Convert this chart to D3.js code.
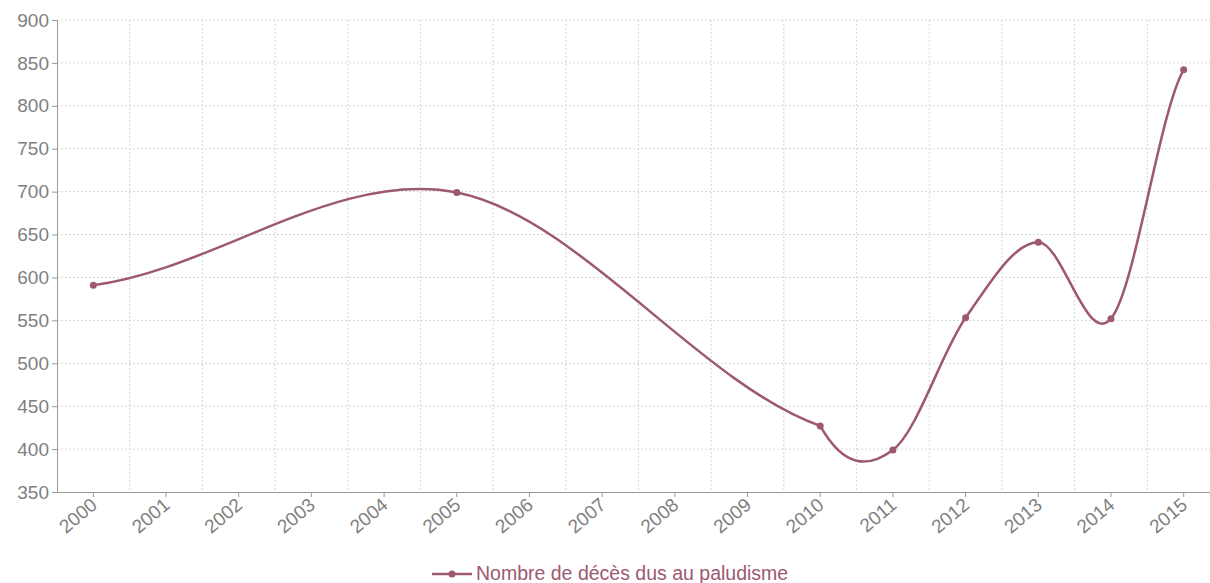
<!DOCTYPE html>
<html>
<head>
<meta charset="utf-8">
<script src="https://cdn.jsdelivr.net/npm/d3@7"></script>
<style>
  body { margin: 0; background: #fff; font-family: "Liberation Sans", Arial, sans-serif; }
  .grid line { stroke: #d6d6d6; stroke-dasharray: 2,2; }
  .grid path { display: none; }
</style>
</head>
<body>
<script>
const years = d3.range(2000, 2016).map(String);
const pointYears = ["2000", "2005", "2010", "2011", "2012", "2013", "2014", "2015"];
const deaths = [591, 699, 427, 399, 553, 641, 552, 842];
const yTicks = [350, 400, 450, 500, 550, 600, 650, 700, 750, 800, 850, 900];
const seriesName = "Nombre de décès dus au paludisme";

const color = "#9d5872";
const W = 1210, H = 583;
const mLeft = 57, mRight = 1220, mTop = 20, mBottom = 492;

const svg = d3.select("body").append("svg")
  .attr("width", W).attr("height", H);

const x = d3.scaleBand().domain(years).range([mLeft, mRight]);
const y = d3.scaleLinear().domain([350, 900]).range([mBottom, mTop]);

// grille horizontale
svg.append("g").attr("class", "grid")
  .selectAll("line").data(yTicks.slice(1)).enter().append("line")
  .attr("x1", mLeft).attr("x2", mRight)
  .attr("y1", d => y(d)).attr("y2", d => y(d));

// grille verticale entre les années
svg.append("g").attr("class", "grid")
  .selectAll("line").data(years).enter().append("line")
  .attr("x1", d => x(d) + x.bandwidth()).attr("x2", d => x(d) + x.bandwidth())
  .attr("y1", mTop).attr("y2", mBottom);

// axe Y
const yAxis = svg.append("g")
  .attr("transform", `translate(${mLeft},0)`)
  .call(d3.axisLeft(y).tickValues(yTicks).tickSize(5).tickPadding(3));
yAxis.selectAll("text").attr("fill", "#808080").style("font-size", "19px");
yAxis.selectAll("line, path").attr("stroke", "#999");

// axe X
const xAxis = svg.append("g")
  .attr("transform", `translate(0,${mBottom})`)
  .call(d3.axisBottom(x).tickSize(5).tickSizeOuter(0));
xAxis.selectAll("line, path").attr("stroke", "#999");
xAxis.selectAll("text")
  .attr("fill", "#808080").style("font-size", "19px")
  .attr("text-anchor", "end")
  .attr("x", 0).attr("y", 0).attr("dy", 0)
  .attr("transform", "translate(5,15) rotate(-40)");

// courbe : spline de Catmull-Rom sur y, x linéaire entre les points
const pts = pointYears.map((d, i) => [x(d) + x.bandwidth() / 2, y(deaths[i])]);
const n = pts.length;
const slope = pts.map((p, i) => {
  const a = pts[Math.max(i - 1, 0)], b = pts[Math.min(i + 1, n - 1)];
  return (b[1] - a[1]) / 2;
});
const path = d3.path();
path.moveTo(pts[0][0], pts[0][1]);
for (let i = 0; i < n - 1; i++) {
  const p0 = pts[i], p1 = pts[i + 1], dx = (p1[0] - p0[0]) / 3;
  path.bezierCurveTo(p0[0] + dx, p0[1] + slope[i] / 3,
                     p1[0] - dx, p1[1] - slope[i + 1] / 3,
                     p1[0], p1[1]);
}
svg.append("path")
  .attr("d", path.toString())
  .attr("fill", "none").attr("stroke", color).attr("stroke-width", 2.5);

svg.selectAll("circle.pt").data(pts).enter().append("circle")
  .attr("class", "pt")
  .attr("cx", d => d[0]).attr("cy", d => d[1]).attr("r", 3.5)
  .attr("fill", color);

// légende
const lg = svg.append("g").attr("transform", "translate(432,574)");
lg.append("line").attr("x1", 0).attr("x2", 40).attr("y1", 0).attr("y2", 0)
  .attr("stroke", color).attr("stroke-width", 2.5);
lg.append("circle").attr("cx", 20).attr("cy", 0).attr("r", 3.5).attr("fill", color);
lg.append("text").attr("x", 44).attr("y", 6).text(seriesName)
  .attr("fill", color).style("font-size", "19.5px");
</script>
</body>
</html>
